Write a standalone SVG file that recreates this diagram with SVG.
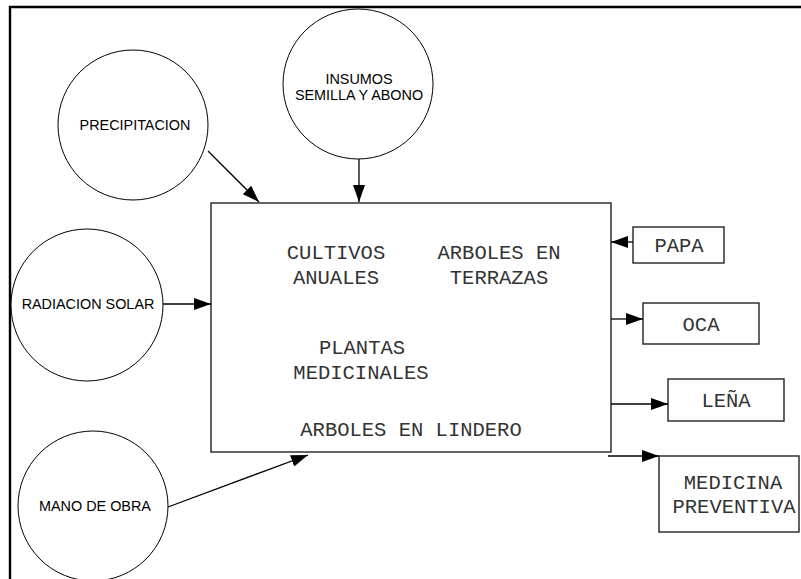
<svg xmlns="http://www.w3.org/2000/svg" width="801" height="579" viewBox="0 0 801 579">
  <defs>
    <marker id="arrow" markerUnits="userSpaceOnUse" markerWidth="18" markerHeight="12" refX="17" refY="6" orient="auto">
      <path d="M0,0 L17,6 L0,12 Z" fill="#000"/>
    </marker>
    <style>
      .frame { stroke: #000; stroke-width: 2.4; fill: none; }
      .circle { fill: #fff; stroke: #000; stroke-width: 1; }
      .box { fill: #fff; stroke: #222; stroke-width: 1.4; }
      .sans { font-family: "Liberation Sans", Arial, sans-serif; font-size: 14.4px; fill: #000; text-anchor: middle; }
      .mono { font-family: "Liberation Mono", "Courier New", monospace; font-size: 20.5px; fill: #333; text-anchor: middle; }
      .link { stroke: #000; stroke-width: 1.3; fill: none; marker-end: url(#arrow); }
    </style>
  </defs>

  <rect width="801" height="579" fill="#fff"/>

  <!-- page frame -->
  <path class="frame" d="M10,579 L10,7 L801,7"/>

  <!-- input nodes -->
  <g id="precipitacion">
    <circle class="circle" cx="133" cy="125" r="75"/>
    <text class="sans" x="135" y="130">PRECIPITACION</text>
  </g>
  <g id="insumos">
    <circle class="circle" cx="358" cy="84" r="75"/>
    <text class="sans" x="359" y="84">INSUMOS</text>
    <text class="sans" x="359" y="100">SEMILLA Y ABONO</text>
  </g>
  <g id="radiacion">
    <circle class="circle" cx="87" cy="305" r="76"/>
    <text class="sans" x="88" y="309">RADIACION SOLAR</text>
  </g>
  <g id="mano-obra">
    <circle class="circle" cx="93" cy="506" r="75"/>
    <text class="sans" x="95" y="511">MANO DE OBRA</text>
  </g>

  <!-- central system -->
  <g id="sistema">
    <rect class="box" x="211" y="203" width="400" height="249"/>
    <text class="mono" x="336" y="259">CULTIVOS</text>
    <text class="mono" x="336" y="284">ANUALES</text>
    <text class="mono" x="499" y="259">ARBOLES EN</text>
    <text class="mono" x="499" y="284">TERRAZAS</text>
    <text class="mono" x="362" y="354">PLANTAS</text>
    <text class="mono" x="361" y="379">MEDICINALES</text>
    <text class="mono" x="411" y="436">ARBOLES EN LINDERO</text>
  </g>

  <!-- product nodes -->
  <g id="papa">
    <rect class="box" x="633" y="227" width="91" height="36"/>
    <text class="mono" x="679" y="252">PAPA</text>
  </g>
  <g id="oca">
    <rect class="box" x="643" y="303" width="116" height="41"/>
    <text class="mono" x="701" y="331">OCA</text>
  </g>
  <g id="lena">
    <rect class="box" x="668" y="379" width="116" height="42"/>
    <text class="mono" x="726" y="407">LEÑA</text>
  </g>
  <g id="medicina">
    <rect class="box" x="659" y="456" width="140" height="76"/>
    <text class="mono" x="733" y="489">MEDICINA</text>
    <text class="mono" x="734" y="513">PREVENTIVA</text>
  </g>

  <!-- connectors -->
  <g id="connectors">
    <line class="link" x1="208" y1="151" x2="259" y2="202"/>
    <line class="link" x1="359" y1="159" x2="359" y2="202"/>
    <line class="link" x1="163" y1="304" x2="211" y2="304"/>
    <line class="link" x1="168" y1="507" x2="308" y2="455"/>
    <line class="link" x1="633" y1="242" x2="611" y2="242"/>
    <line class="link" x1="611" y1="319" x2="643" y2="319"/>
    <line class="link" x1="611" y1="404" x2="668" y2="404"/>
    <line class="link" x1="608" y1="456" x2="659" y2="456"/>
  </g>
</svg>
